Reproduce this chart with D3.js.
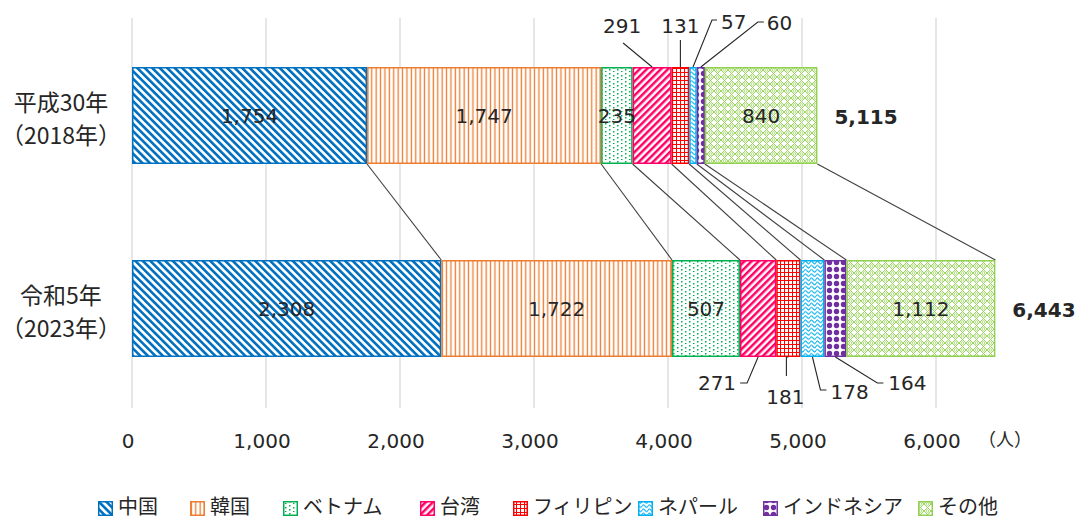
<!DOCTYPE html>
<html><head><meta charset="utf-8">
<script src="https://cdn.jsdelivr.net/npm/d3@7"></script>
<style>
body{margin:0;background:#fff;}
text{font-family:"DejaVu Sans","Noto Sans CJK JP",sans-serif;fill:#262626;}
.jp{font-family:"Noto Sans CJK JP",sans-serif;}
</style></head><body>
<svg id="c" width="1083" height="520"></svg>
<script>
const years = ["平成30年|（2018年）", "令和5年|（2023年）"];
const countries = ["中国","韓国","ベトナム","台湾","フィリピン","ネパール","インドネシア","その他"];
const v2018 = [1754,1747,235,291,131,57,60,840];
const v2023 = [2308,1722,507,271,181,178,164,1112];
const totals = [5115,6443];
const xTicks = [0,1000,2000,3000,4000,5000,6000];
const colors = ["#0070C0","#ED7D31","#00B050","#FF0066","#FF0000","#00B0F0","#7030A0","#92D050"];

const svg = d3.select("#c");
const x = d3.scaleLinear().domain([0,6000]).range([132,936]);
const barTop = [67,260], barH = 97;

// patterns
const defs = svg.append("defs");
function pat(id,w,h,tr){
  const p = defs.append("pattern").attr("id",id).attr("patternUnits","userSpaceOnUse").attr("width",w).attr("height",h);
  if(tr) p.attr("patternTransform",tr);
  p.append("rect").attr("width",w).attr("height",h).attr("fill","#fff");
  return p;
}
let p;
p = pat("p0",5.3,10,"rotate(-45)"); p.append("rect").attr("width",2.6).attr("height",10).attr("fill",colors[0]);
p = pat("p1",4.4,10); p.append("rect").attr("x",1.5).attr("width",1.3).attr("height",10).attr("fill",colors[1]);
p = pat("p2",8,8);
 [[1,1],[5,3],[1,5],[5,7]].forEach(([a,b])=>p.append("rect").attr("x",a).attr("y",b).attr("width",1.5).attr("height",1.5).attr("fill","#00B050"));
p = pat("p3",5,10,"rotate(45)"); p.append("rect").attr("width",2.5).attr("height",10).attr("fill",colors[3]);
p = pat("p4",4,4); p.append("rect").attr("x",0).attr("width",1).attr("height",4).attr("fill",colors[4]);
 p.append("rect").attr("y",0).attr("width",4).attr("height",1).attr("fill",colors[4]);
p = pat("p5",6,4.2); p.append("path").attr("d","M0,2.1 C1.5,0.3 1.5,0.3 3,2.1 S4.5,3.9 6,2.1").attr("fill","none").attr("stroke",colors[5]).attr("stroke-width",1);
p = pat("p6",7,7); p.append("circle").attr("cx",3.5).attr("cy",3.5).attr("r",2.7).attr("fill",colors[6]);
p = pat("p7",7,7); p.append("path").attr("d","M0,0 L7,7 M7,0 L0,7").attr("stroke",colors[7]).attr("stroke-width",0.9);
 p.append("circle").attr("cx",3.5).attr("cy",0).attr("r",1.4).attr("fill","none").attr("stroke",colors[7]).attr("stroke-width",0.7);
 p.append("circle").attr("cx",3.5).attr("cy",7).attr("r",1.4).attr("fill","none").attr("stroke",colors[7]).attr("stroke-width",0.7);

// gridlines
svg.append("g").selectAll("line").data(xTicks).join("line")
  .attr("x1",d=>x(d)).attr("x2",d=>x(d)).attr("y1",18).attr("y2",408)
  .attr("stroke","#d9d9d9").attr("stroke-width",1.3);

// axis labels
svg.append("g").selectAll("text").data(xTicks).join("text")
  .attr("x",d=>x(d)-4).attr("y",448).attr("text-anchor","middle").attr("font-size",20)
  .text(d=>d3.format(",")(d));
svg.append("text").attr("class","jp").attr("x",1005).attr("y",446).attr("text-anchor","middle").attr("font-size",18).text("（人）");

const rows = [v2018, v2023];
const stacks = rows.map(r=>{let c=0; return r.map(v=>{const s=c; c+=v; return [s,c];});});

// connector lines
svg.append("g").selectAll("line").data(countries.map((c,i)=>i)).join("line")
  .attr("x1",i=>x(stacks[0][i][1])).attr("y1",barTop[0]+barH)
  .attr("x2",i=>x(stacks[1][i][1])).attr("y2",barTop[1])
  .attr("stroke","#404040").attr("stroke-width",1.1);

// bars
rows.forEach((r,ri)=>{
  svg.append("g").selectAll("rect").data(r).join("rect")
    .attr("x",(d,i)=>x(stacks[ri][i][0])+0.75)
    .attr("width",(d,i)=>x(stacks[ri][i][1])-x(stacks[ri][i][0])-1.5)
    .attr("y",barTop[ri]+0.75).attr("height",barH-1.5)
    .attr("fill",(d,i)=>`url(#p${i})`).attr("stroke",(d,i)=>colors[i]).attr("stroke-width",1.5);
});

// inside labels
const inside = [[0,1,2,7],[0,1,2,7]];
rows.forEach((r,ri)=>{
  svg.append("g").selectAll("text").data(inside[ri]).join("text")
    .attr("x",i=>(x(stacks[ri][i][0])+x(stacks[ri][i][1]))/2)
    .attr("y",barTop[ri]+barH/2+7).attr("text-anchor","middle").attr("font-size",20)
    .text(i=>d3.format(",")(r[i]));
});

// outside labels with leaders
const out2018 = [
  {i:3, pts:[[0,0],[-29,-24]], tx:-30, ty:-34, a:"middle"},
  {i:4, pts:[[0,0],[0,-27]], tx:0, ty:-34, a:"middle"},
  {i:5, pts:[[0,0],[19,-47],[24,-47]], tx:28, ty:-38, a:"start"},
  {i:6, pts:[[0,0],[57,-45],[63,-45]], tx:66, ty:-37, a:"start"}
];
const out2023 = [
  {i:3, pts:[[0,0],[-11,26],[-18,26]], tx:-22, ty:33, a:"end"},
  {i:4, pts:[[0,0],[-2,0],[-2,19]], tx:-3, ty:47, a:"middle"},
  {i:5, pts:[[0,0],[8,33],[14,33]], tx:18, ty:42, a:"start"},
  {i:6, pts:[[0,0],[42,26],[48,26]], tx:53, ty:33, a:"start"}
];
[[out2018,0,barTop[0]],[out2023,1,barTop[1]+barH]].forEach(([arr,ri,edge])=>{
  arr.forEach(o=>{
    const mx = (x(stacks[ri][o.i][0])+x(stacks[ri][o.i][1]))/2;
    svg.append("path").attr("d",d3.line()(o.pts.map(p=>[mx+p[0],edge+p[1]])))
      .attr("fill","none").attr("stroke","#262626").attr("stroke-width",1.1);
    svg.append("text").attr("x",mx+o.tx).attr("y",edge+o.ty).attr("text-anchor",o.a).attr("font-size",20)
      .text(d3.format(",")(rows[ri][o.i]));
  });
});

// totals
totals.forEach((t,ri)=>{
  svg.append("text").attr("x",x(t)+17).attr("y",barTop[ri]+barH/2+8).attr("font-size",20).attr("font-weight","bold")
    .text(d3.format(",")(t));
});

// row labels
years.forEach((yl,ri)=>{
  const parts = yl.split("|");
  const cy = barTop[ri]+barH/2;
  svg.append("text").attr("class","jp").attr("x",61).attr("y",cy-5).attr("text-anchor","middle").attr("font-size",23).text(parts[0]);
  svg.append("text").attr("class","jp").attr("x",61).attr("y",cy+28).attr("text-anchor","middle").attr("font-size",23).text(parts[1]);
});

// legend
const legX = [98,190,283,420,513,638,763,918];
const lg = svg.append("g");
countries.forEach((c,i)=>{
  lg.append("rect").attr("x",legX[i]+0.75).attr("y",501.75).attr("width",13.5).attr("height",13.5)
    .attr("fill",`url(#p${i})`).attr("stroke",colors[i]).attr("stroke-width",1.5);
  lg.append("text").attr("class","jp").attr("x",legX[i]+20).attr("y",514).attr("font-size",20).text(c);
});
</script></body></html>
